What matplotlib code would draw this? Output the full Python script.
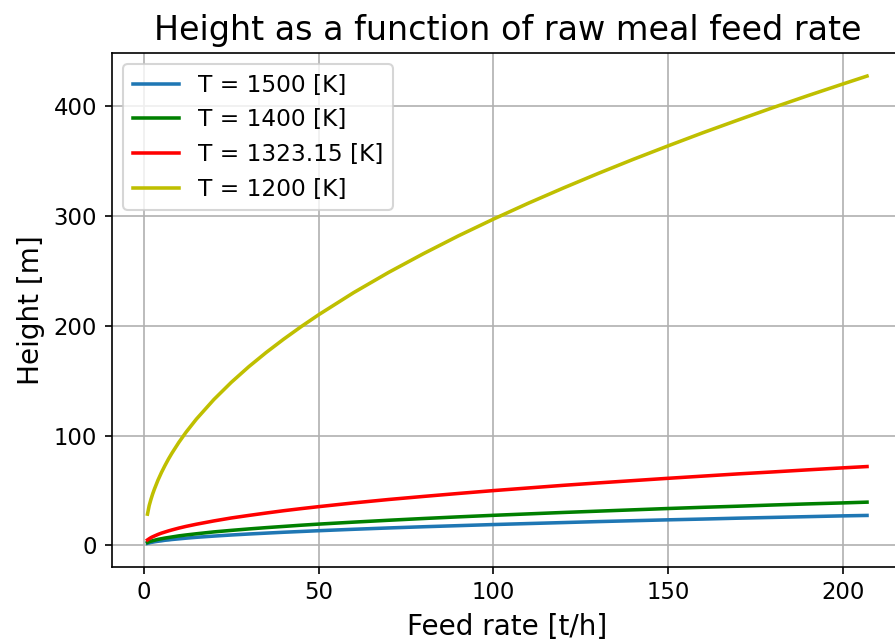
import matplotlib.pyplot as plt

# Feed rate [t/h] and heights [m] for each gas temperature
feed_rate = [1, 1.5, 2, 2.5, 3, 4, 5, 6, 7, 8,
             10, 12, 15, 20, 25, 30, 35, 40, 45, 50,
             60, 70, 80, 90, 100, 110, 120, 130, 140, 150,
             160, 170, 180, 190, 200, 207]
height_1500 = [1.9, 2.3, 2.7, 3.0, 3.3, 3.8, 4.2, 4.7, 5.0, 5.4,
               6.0, 6.6, 7.4, 8.5, 9.5, 10.4, 11.2, 12.0, 12.7, 13.4,
               14.7, 15.9, 17.0, 18.0, 19.0, 19.9, 20.8, 21.7, 22.5, 23.3,
               24.0, 24.8, 25.5, 26.2, 26.9, 27.3]
height_1400 = [2.7, 3.4, 3.9, 4.3, 4.7, 5.5, 6.1, 6.7, 7.2, 7.7,
               8.7, 9.5, 10.6, 12.3, 13.7, 15.0, 16.2, 17.3, 18.4, 19.4,
               21.2, 22.9, 24.5, 26.0, 27.4, 28.7, 30.0, 31.2, 32.4, 33.6,
               34.7, 35.7, 36.8, 37.8, 38.7, 39.4]
height_1323 = [5.0, 6.1, 7.1, 7.9, 8.6, 10.0, 11.2, 12.2, 13.2, 14.1,
               15.8, 17.3, 19.3, 22.3, 25.0, 27.3, 29.5, 31.6, 33.5, 35.3,
               38.7, 41.8, 44.6, 47.3, 49.9, 52.3, 54.7, 56.9, 59.0, 61.1,
               63.1, 65.1, 66.9, 68.8, 70.6, 71.8]
height_1200 = [28.5, 36.4, 42.0, 47.0, 51.4, 59.4, 66.4, 72.7, 78.6, 84.0,
               93.9, 102.9, 115.0, 132.8, 148.5, 162.7, 175.7, 187.8, 199.2, 210.0,
               230.1, 248.5, 265.6, 281.8, 297.0, 311.5, 325.3, 338.6, 351.4, 363.7,
               375.7, 387.2, 398.5, 409.4, 420.0, 427.3]

W, H = 895, 643
fig = plt.figure(figsize=(W / 150, H / 150), dpi=150)
ax = fig.add_axes([111.5 / W, (H - 566.7) / H, (903 - 111.5) / W, (566.7 - 52.7) / H])

ax.plot(feed_rate, height_1500, color="C0", lw=1.7, label="T = 1500 [K]")
ax.plot(feed_rate, height_1400, color="g", lw=1.7, label="T = 1400 [K]")
ax.plot(feed_rate, height_1323, color="r", lw=1.7, label="T = 1323.15 [K]")
ax.plot(feed_rate, height_1200, color="y", lw=1.7, label="T = 1200 [K]")

ax.set_title("Height as a function of raw meal feed rate", fontsize=16)
ax.set_xlabel("Feed rate [t/h]", fontsize=13.4)
ax.set_ylabel("Height [m]", fontsize=13.4)
ax.tick_params(labelsize=10.9)
ax.spines["right"].set_visible(False)
ax.grid(True)
ax.legend(loc="upper left", fontsize=11.2)

fig.savefig("out.png", dpi=150)
